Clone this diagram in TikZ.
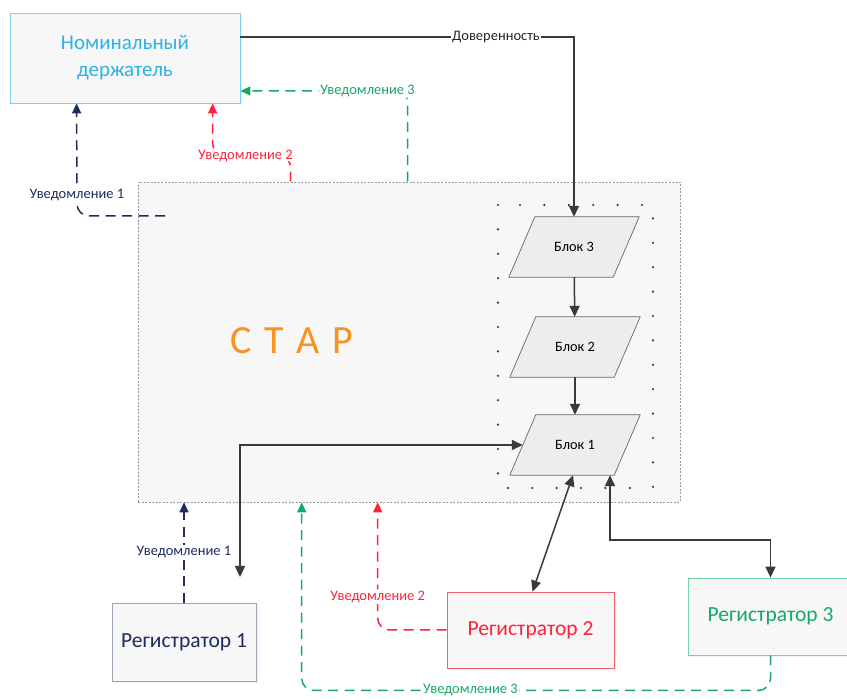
\documentclass[tikz,border=0pt]{standalone}
\usepackage{fontspec}
\setmainfont{Carlito}
\usetikzlibrary{calc, shapes.geometric, arrows.meta, positioning, shadows, backgrounds}
\definecolor{nomcyan}{HTML}{2BB2E6}
\definecolor{nomedge}{HTML}{7AD3EE}
\definecolor{navyblue}{HTML}{1F2B5E}
\definecolor{regedge}{HTML}{9EA6B8}
\definecolor{redtxt}{HTML}{FF2238}
\definecolor{rededge}{HTML}{F0606A}
\definecolor{greentxt}{HTML}{16A866}
\definecolor{greenedge}{HTML}{74D6A8}
\definecolor{stargold}{HTML}{F7931E}
\definecolor{conngray}{HTML}{3A3A3A}

\begin{document}
\begin{tikzpicture}[x=1pt,y=-1pt,
	regbox/.style={draw,fill=black!3,line width=0.8pt,minimum width=#1,minimum height=77pt,font=\fontsize{21.5}{24}\selectfont,drop shadow={opacity=0.12,shadow xshift=1.5pt,shadow yshift=-1.5pt}},
	blok/.style={minimum width=104pt,minimum height=60pt,font=\fontsize{14.3}{16}\selectfont},
	blokline/.style={draw=black!60,fill=black!7,line width=0.7pt},
	conn/.style={draw=conngray,line width=1.5pt,-{Triangle[length=11pt,width=10pt]}},
	conntwo/.style={conn,{Triangle[length=11pt,width=10pt]}-{Triangle[length=11pt,width=10pt]}},
	note/.style={line width=1.5pt,dash pattern=on 10pt off 6.5pt,rounded corners=12pt,-{Triangle[length=10pt,width=9pt]}},
	lbl/.style={fill=white,inner sep=1.5pt,font=\fontsize{14.5}{16}\selectfont}]
\useasboundingbox (0,0) rectangle (847,700);

% blocks
\node[blok] (b3) at (574,247) {Блок 3};
\node[blok] (b2) at (575,347) {Блок 2};
\node[blok] (b1) at (575,445) {Блок 1};

% СТАР
\begin{scope}[on background layer]
\node[draw=black!40,fill=black!3,dash pattern=on 2pt off 1.5pt,line width=0.6pt,minimum width=542pt,minimum height=320pt] (star) at (409,342) {};
\draw[black!80,line width=2.4pt,line cap=round,dash pattern=on 0pt off 24.4pt] (498,205) rectangle (653,488);
\foreach \b in {b1,b2,b3}
	\draw[blokline] ([xshift=-13pt]\b.south west) -- ([xshift=13pt]\b.north west) -- ([xshift=13pt]\b.north east) -- ([xshift=-13pt]\b.south east) -- cycle;
\end{scope}
\node[text=stargold,font=\fontsize{40}{42}\selectfont] (startxt) at (292,341) {С\hspace{0.32em}Т\hspace{0.32em}А\hspace{0.32em}Р};

% boxes
\node[regbox=230pt,draw=nomedge,text=nomcyan,minimum height=90pt,align=center,font=\fontsize{21}{27}\selectfont] (nom) at (125,58) {Номинальный\\держатель};
\node[regbox=144pt,draw=regedge,text=navyblue,minimum height=78pt] (r1) at (184,642) {Регистратор 1};
\node[regbox=167pt,draw=rededge,text=redtxt,minimum height=76pt] (r2) at (530.5,630) {Регистратор 2};
\node[regbox=165pt,draw=greenedge,text=greentxt] (r3) at (770.5,616.5) {Регистратор 3};

% solid arrows
\draw[conn] ([yshift=21pt]nom.east) -| node[lbl,pos=0.383,text=black!85]{Доверенность} (b3.north);
\draw[conn] (b3) -- (b2);
\draw[conn] (b2) -- (b1);
\coordinate (r1in) at (240,577);
\draw[conntwo] (r1in) |- (b1.west);
\draw[conntwo] ([xshift=-2pt]b1.south) -- ([xshift=2pt]r2.north);
\draw[conntwo] ([xshift=35pt]b1.south) -- ++(0,65) -| (r3.north);

% notifications
\coordinate (n1a) at (165,216);
\draw[note,navyblue] (n1a) -- (77,216) -- node[lbl,pos=0.19]{Уведомление 1} ([xshift=67pt]nom.south west);
\draw[note,redtxt] ([xshift=153pt]star.north west) -- ++(0,-26) -- node[lbl,pos=0.58]{Уведомление 2} ++(-78,0) -- ([xshift=203pt]nom.south west);
\draw[note,greentxt] ([xshift=270pt]star.north west) -- ++(0,-91) -- node[lbl,pos=0.24]{Уведомление 3} ([yshift=-33pt]nom.east);
\draw[note,navyblue] (r1.north) -- node[lbl]{Уведомление 1} (r1.north |- star.south);
\draw[note,redtxt] (r2.west) -| node[lbl,pos=0.63]{Уведомление 2} ([xshift=240pt]star.south west);
\draw[note,greentxt] (r3.south) -- ++(0,35) -| node[lbl,pos=0.32]{Уведомление 3} ([xshift=164pt]star.south west);
\end{tikzpicture}
\end{document}
